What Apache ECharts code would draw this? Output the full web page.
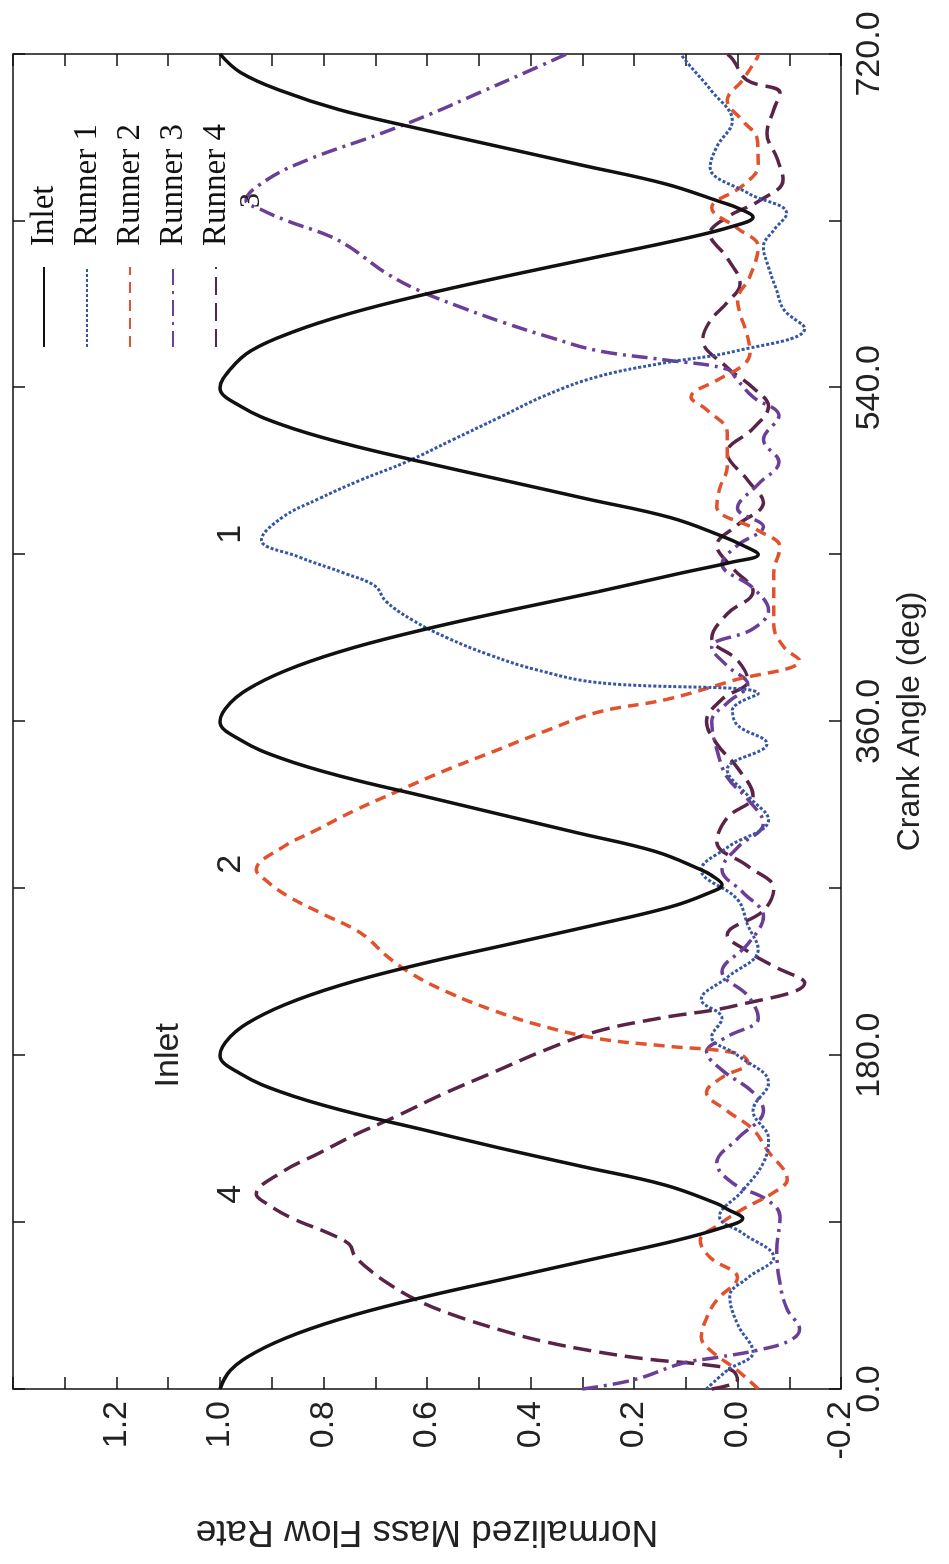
<!DOCTYPE html>
<html>
<head>
<meta charset="utf-8">
<script src="https://cdn.jsdelivr.net/npm/echarts@6.0.0/dist/echarts.min.js"></script>
<style>
html, body { margin: 0; padding: 0; width: 949px; height: 1564px; overflow: hidden; background: #fff; }
/* the chart is drawn landscape and turned a quarter turn, like the scanned page */
#chart { position: absolute; left: 0; top: 0; width: 1564px; height: 949px; transform-origin: 0 0; transform: translateY(1564px) rotate(-90deg); }
</style>
</head>
<body>
<div id="chart"></div>
<script>
// crank angle (deg), normalized mass flow rate
const inlet = [[0,1.00],[10,0.98],[20,0.93],[30,0.85],[40,0.74],[50,0.60],[60,0.44],[70,0.28],[80,0.12],[87,0.03],[92,-0.01],[97,0.02],[100,0.04],[110,0.14],[120,0.30],[130,0.46],[140,0.61],[150,0.76],[160,0.88],[170,0.96],[180,1.00],
  [190,0.98],[200,0.93],[210,0.85],[220,0.74],[230,0.60],[240,0.44],[250,0.28],[260,0.13],[267,0.06],[272,0.03],[277,0.05],[280,0.07],[290,0.16],[300,0.31],[310,0.46],[320,0.61],[330,0.76],[340,0.88],[350,0.96],[360,1.00],
  [370,0.98],[380,0.93],[390,0.85],[400,0.74],[410,0.60],[420,0.44],[430,0.27],[440,0.11],[446,0.01],[450,-0.04],[455,-0.01],[460,0.03],[470,0.13],[480,0.29],[490,0.45],[500,0.61],[510,0.76],[520,0.88],[530,0.96],[540,1.00],
  [550,0.98],[560,0.94],[570,0.86],[580,0.75],[590,0.61],[600,0.45],[610,0.28],[620,0.11],[627,0.01],[632,-0.03],[637,0.00],[640,0.03],[650,0.14],[660,0.30],[670,0.46],[680,0.62],[690,0.77],[700,0.88],[710,0.96],[720,1.00]];

const runner1 = [[0,0.06],[10,0.02],[20,-0.03],[35,0.00],[50,0.015],[60,-0.02],[71,-0.07],[84,-0.01],[93,0.035],[107,-0.01],[122,-0.05],[135,-0.06],[150,-0.03],[165,-0.06],[180,0.00],[190,0.05],[200,0.03],[210,0.07],[222,0.02],[237,-0.04],[250,-0.02],[264,0.00],[280,0.07],[292,0.02],[307,-0.06],[320,-0.02],[334,0.02],[348,-0.057],[358,0.00],[366,0.01],[375,-0.04],
  [381,0.27],[388,0.39],[396,0.48],[405,0.56],[415,0.63],[425,0.68],[433,0.70],[440,0.76],[449,0.85],[458,0.92],[470,0.88],[480,0.81],[490,0.73],[500,0.64],[512,0.55],[524,0.46],[536,0.37],[546,0.27],[553,0.15],[560,0.00],[572,-0.13],
  [582,-0.09],[593,-0.075],[605,-0.06],[616,-0.05],[625,-0.07],[634,-0.095],[645,-0.02],[659,0.053],[670,0.04],[684,0.01],[700,0.05],[715,0.096],[720,0.11]];

const runner2 = [[0,-0.04],[10,0.00],[21,0.053],[28,0.07],[38,0.06],[48,0.04],[60,0.00],[71,0.053],[80,0.072],[89,0.034],[97,-0.01],[106,-0.07],[113,-0.096],[129,-0.057],[140,-0.03],[150,0.02],[160,0.06],[168,0.03],[176,-0.02],[181,0.00],
  [185,0.14],[189,0.27],[196,0.38],[204,0.47],[214,0.56],[224,0.63],[234,0.68],[242,0.71],[248,0.74],[256,0.80],[266,0.87],[274,0.91],[280,0.93],[292,0.88],[302,0.81],[312,0.74],[322,0.66],[333,0.57],[344,0.47],[355,0.37],[365,0.27],[372,0.136],[382,0.01],[393,-0.12],
  [400,-0.09],[412,-0.07],[425,-0.07],[440,-0.07],[454,-0.082],[463,-0.04],[476,0.04],[486,0.034],[497,0.02],[507,0.02],[516,0.02],[528,0.059],[535,0.09],[544,0.04],[552,-0.01],[559,-0.024],[569,-0.018],[580,-0.005],[587,0.00],[600,-0.024],[616,-0.04],[626,0.00],[637,0.05],[649,-0.01],[660,-0.04],[674,-0.038],[684,-0.01],[695,0.02],[706,-0.01],[718,-0.038],[720,-0.04]];

const runner3 = [[0,0.30],[5,0.20],[14,0.105],[17,0.04],[21,-0.04],[26,-0.10],[32,-0.12],[43,-0.096],[57,-0.082],[75,-0.076],[93,-0.082],[102,-0.057],[111,0.009],[122,0.04],[135,0.00],[150,-0.05],[160,-0.03],[172,0.03],[182,0.06],[190,0.02],[200,-0.04],[212,-0.02],[225,0.03],[240,-0.02],[255,-0.05],[268,-0.01],[280,0.03],[292,0.00],[305,-0.05],[318,-0.02],[330,0.02],[345,0.04],[360,0.05],[370,0.02],[380,-0.02],[390,0.02],[400,0.05],[410,-0.03],[420,-0.06],[432,-0.03],[445,0.03],[455,0.00],[465,-0.05],[475,0.00],[488,-0.04],[500,-0.08],[512,-0.05],[525,-0.08],[535,-0.03],[544,0.00],[550,0.02],
  [555,0.14],[560,0.27],[567,0.36],[575,0.45],[584,0.54],[593,0.62],[602,0.68],[610,0.72],[616,0.75],[622,0.79],[630,0.87],[636,0.92],[641,0.95],[652,0.91],[663,0.83],[677,0.69],[688,0.59],[699,0.50],[710,0.41],[720,0.33]];

const runner4 = [[0,0.05],[5,0.00],[10,0.01],[13,0.06],[16,0.17],[20,0.27],[26,0.38],[32,0.46],[40,0.55],[48,0.62],[56,0.67],[64,0.71],[72,0.74],[78,0.75],[84,0.79],[92,0.86],[100,0.91],[105,0.93],[117,0.88],[127,0.81],[137,0.74],[147,0.66],[159,0.57],[171,0.47],[183,0.37],[193,0.27],[200,0.15],[207,0.00],[219,-0.13],
  [228,-0.07],[236,-0.02],[245,0.02],[258,-0.05],[270,-0.07],[282,-0.02],[295,0.04],[308,0.02],[320,-0.03],[335,0.00],[348,0.04],[360,0.06],[372,0.03],[382,-0.02],[393,0.00],[405,0.05],[418,0.02],[430,-0.03],[443,0.01],[455,0.04],[466,0.00],[478,-0.05],[490,-0.02],[505,0.02],[518,-0.03],[530,-0.06],[540,-0.03],[551,0.02],[566,0.067],[576,0.053],[586,0.02],[596,-0.005],[610,0.02],[623,0.053],[632,0.02],[641,-0.043],[652,-0.088],[664,-0.076],[677,-0.057],[690,-0.07],[699,-0.082],[706,-0.018],[717,0.009],[720,0.02]];

const seriesNames = ['Inlet', 'Runner 1', 'Runner 2', 'Runner 3', 'Runner 4'];
const crankLabels = [0, 180, 360, 540, 720];
const flowLabels = [-0.2, 0.0, 0.2, 0.4, 0.6, 0.8, 1.0, 1.2];

// curve tags written on the plot, in data coordinates
const tags = [
  { name: '4', coord: [105, 0.98] },
  { name: '2', coord: [283, 0.98] },
  { name: '1', coord: [461, 0.98] },
  { name: '3', coord: [641, 0.94], serif: true },
  { name: 'Inlet', coord: [180, 1.10] }
];

const sans = 'Liberation Sans, Arial, sans-serif';
const serif = 'Liberation Serif, Times New Roman, serif';

const chart = echarts.init(document.getElementById('chart'));

const tickStyle = { show: true, inside: true, length: 12, lineStyle: { color: '#111', width: 1.5 } };
const noLine = { show: false, onZero: false };

function crankFmt(v) {
  return crankLabels.indexOf(v) >= 0 ? v.toFixed(1) : '';
}
function flowFmt(v) {
  return flowLabels.some(t => Math.abs(t - v) < 1e-6) ? v.toFixed(1) : '';
}

function line(name, data, color, width, type, z) {
  return {
    name: name,
    type: 'line',
    data: data,
    symbol: 'none',
    smooth: 0.4,
    z: z,
    lineStyle: { color: color, width: width, type: type },
    itemStyle: { color: color }
  };
}

const inletSeries = line('Inlet', inlet, '#111111', 3.5, 'solid', 10);
inletSeries.markPoint = {
  symbol: 'circle',
  symbolSize: 1,
  itemStyle: { color: 'rgba(0,0,0,0)' },
  label: { show: true, position: 'inside', color: '#222', fontFamily: sans, fontSize: 34, formatter: p => p.name },
  data: tags.map(t => ({
    name: t.name,
    coord: t.coord,
    label: t.serif ? { fontFamily: serif, fontSize: 30 } : {}
  }))
};

chart.setOption({
  backgroundColor: '#fff',
  animation: false,
  grid: { left: 175, right: 54, top: 13, bottom: 108, show: true, borderColor: '#111', borderWidth: 1.5, backgroundColor: 'transparent' },
  legend: {
    data: seriesNames,
    orient: 'vertical',
    left: 1211,
    top: 22,
    itemWidth: 80,
    itemHeight: 14,
    itemGap: 9,
    itemStyle: { opacity: 0 },
    textStyle: { fontFamily: serif, fontSize: 33, lineHeight: 34, color: '#111', padding: [0, 0, 0, 16] }
  },
  xAxis: [{
    type: 'value', min: 0, max: 720, interval: 90,
    name: 'Crank Angle (deg)', nameLocation: 'middle', nameGap: 53,
    nameTextStyle: { fontFamily: sans, fontSize: 32, color: '#222' },
    axisLine: noLine,
    axisTick: tickStyle,
    splitLine: { show: false },
    axisLabel: { formatter: crankFmt, margin: 12, fontFamily: sans, fontSize: 34, color: '#222' }
  }, {
    type: 'value', min: 0, max: 720, interval: 90, position: 'top',
    axisLine: noLine, axisTick: tickStyle, splitLine: { show: false }, axisLabel: { show: false }
  }],
  yAxis: [{
    type: 'value', min: -0.2, max: 1.4, interval: 0.1,
    name: 'Normalized Mass Flow Rate', nameLocation: 'middle', nameGap: 124, nameRotate: 90,
    nameTextStyle: { fontFamily: sans, fontSize: 37, color: '#222' },
    axisLine: noLine,
    axisTick: tickStyle,
    splitLine: { show: false },
    axisLabel: { formatter: flowFmt, margin: 12, fontFamily: sans, fontSize: 34, color: '#222' }
  }, {
    type: 'value', min: -0.2, max: 1.4, interval: 0.1, position: 'right',
    axisLine: noLine, axisTick: tickStyle, splitLine: { show: false }, axisLabel: { show: false }
  }],
  series: [
    line('Runner 1', runner1, '#3556a8', 3, [3, 2], 5),
    line('Runner 2', runner2, '#e2522c', 3.5, [11, 7], 4),
    line('Runner 3', runner3, '#6b3f97', 3.5, [16, 6, 3, 6], 3),
    line('Runner 4', runner4, '#5b2447', 3.5, [18, 8], 2),
    inletSeries
  ]
});
</script>
</body>
</html>
